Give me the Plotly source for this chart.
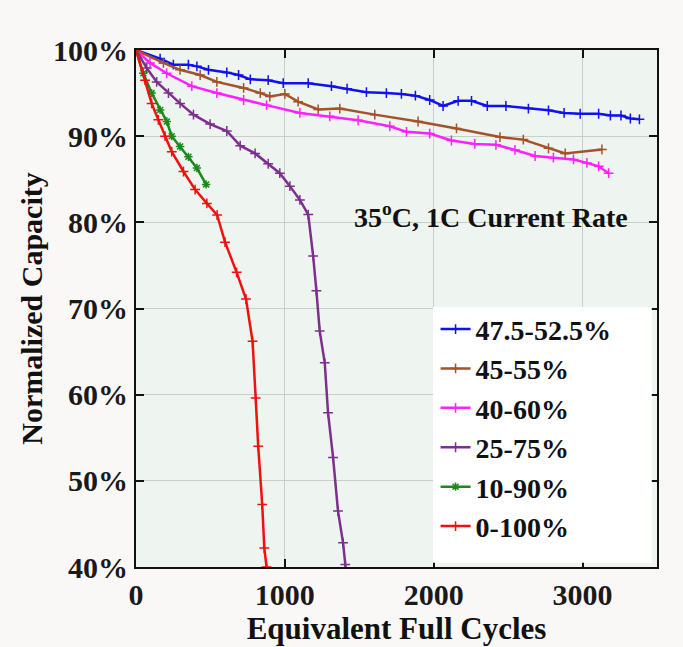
import plotly.graph_objects as go

# ---- data ----
blue_x = [0, 162, 251, 352, 409, 487, 610, 689, 768, 888, 989, 1157, 1313, 1418, 1548, 1682, 1783, 1877,
          1973, 2063, 2164, 2254, 2360, 2485, 2636, 2771, 2876, 2984, 3108, 3187, 3258, 3321, 3382]
blue_y = [100, 99.0, 98.3, 98.3, 98.1, 97.7, 97.4, 97.1, 96.6, 96.5, 96.15, 96.15, 95.8, 95.5, 95.1, 95.0, 94.9, 94.7,
          94.2, 93.5, 94.1, 94.1, 93.5, 93.5, 93.2, 93.0, 92.7, 92.6, 92.6, 92.4, 92.4, 92.05, 91.95]

brown_x = [0, 184, 296, 431, 543, 723, 835, 899, 1000, 1089, 1224, 1369, 1604, 1895, 2153, 2445, 2602, 2771, 2883, 3130]
brown_y = [100, 98.5, 97.7, 97.1, 96.3, 95.6, 95.0, 94.6, 94.9, 94.0, 93.1, 93.2, 92.5, 91.7, 90.9, 89.9, 89.6, 88.6, 88.0, 88.45]

magenta_x = [0, 94, 206, 375, 543, 723, 877, 1101, 1302, 1492, 1705, 1817, 1973, 2119, 2276, 2418, 2546, 2681,
             2804, 2939, 3029, 3108, 3175]
magenta_y = [100, 98.5, 97.3, 95.8, 95.0, 94.2, 93.6, 92.7, 92.3, 91.85, 91.15, 90.5, 90.3, 89.5, 89.1, 89.0, 88.4, 87.7,
             87.5, 87.3, 86.9, 86.5, 85.7]

purple_x = [0, 72, 139, 218, 296, 386, 498, 610, 700, 800, 888, 966, 1034, 1101, 1157, 1190, 1212, 1234, 1268,
            1290, 1324, 1357, 1391, 1406, 1420]
purple_y = [100, 97.9, 96.3, 95.0, 93.8, 92.5, 91.4, 90.6, 88.9, 88.0, 86.8, 85.7, 84.2, 82.6, 80.9, 76.1, 72.05, 67.4, 63.7,
            57.9, 52.7, 46.5, 42.8, 40.3, 38.0]

green_x = [0, 49, 105, 162, 207, 240, 296, 352, 409, 471]
green_y = [100, 97.3, 95.0, 93.05, 91.7, 90.0, 88.8, 87.6, 86.3, 84.4]

red_x = [0, 61, 105, 150, 195, 240, 319, 397, 476, 545, 598, 676, 739, 783, 804, 821, 848, 862, 877]
red_y = [100, 96.5, 93.8, 91.9, 90.0, 88.2, 85.9, 83.8, 82.2, 80.85, 77.7, 74.2, 71.1, 66.2, 59.6, 54.0, 47.25, 42.2, 40.0]

series = [
    ("47.5-52.5%", blue_x, blue_y, "#1010f0", "cross-thin"),
    ("45-55%", brown_x, brown_y, "#a4522a", "cross-thin"),
    ("40-60%", magenta_x, magenta_y, "#ff20ff", "cross-thin"),
    ("25-75%", purple_x, purple_y, "#7e2f8e", "cross-thin"),
    ("10-90%", green_x, green_y, "#1a8a1a", "asterisk"),
    ("0-100%", red_x, red_y, "#f01010", "cross-thin"),
]

y_ticks = [40, 50, 60, 70, 80, 90, 100]
y_labels = ["40%", "50%", "60%", "70%", "80%", "90%", "100%"]
x_ticks = [0, 1000, 2000, 3000]
x_labels = ["0", "1000", "2000", "3000"]

font_family = "Liberation Serif, Times New Roman, serif"

fig = go.Figure()
for name, xs, ys, color, sym in series:
    fig.add_trace(go.Scatter(
        x=xs, y=ys, mode="lines+markers", name="<b>%s</b>" % name,
        line=dict(color=color, width=2.5),
        marker=dict(symbol=sym, size=7, color=color, line=dict(color=color, width=1.5)),
    ))

# white legend panel (extends to the right frame as in the reference)
fig.add_shape(type="rect", xref="paper", yref="paper", x0=0.570, x1=0.990, y0=0.008, y1=0.503,
              fillcolor="#ffffff", line=dict(width=0), layer="above")

fig.add_annotation(
    x=0.415, y=0.68, xref="paper", yref="paper", xanchor="left", yanchor="middle",
    text="<b>35<sup>o</sup>C, 1C Current Rate</b>", showarrow=False,
    font=dict(family=font_family, size=28, color="#111"),
)

axis_common = dict(
    showline=True, linecolor="#111", linewidth=2, mirror="ticks",
    ticks="inside", ticklen=8, tickwidth=1.5, tickcolor="#111",
    showgrid=True, gridcolor="#c9cec9", gridwidth=1, zeroline=False,
    tickfont=dict(family=font_family, size=30, color="#1a1a1a"),
)

fig.update_layout(
    width=683, height=647,
    margin=dict(l=136, r=26, t=50, b=80),
    paper_bgcolor="#faf8f7",
    plot_bgcolor="#eef4ef",
    font=dict(family=font_family, color="#111"),
    xaxis=dict(range=[0, 3500], tickvals=x_ticks, ticktext=["<b>%s</b>" % t for t in x_labels],
               title=dict(text="<b>Equivalent Full Cycles</b>", font=dict(family=font_family, size=31), standoff=0),
               **axis_common),
    yaxis=dict(range=[40, 100], tickvals=y_ticks, ticktext=["<b>%s</b>" % t for t in y_labels],
               title=dict(text="<b>Normalized Capacity</b>", font=dict(family=font_family, size=30), standoff=2),
               **axis_common),
    legend=dict(x=0.575, y=0.508, xanchor="left", yanchor="top",
                bgcolor="rgba(255,255,255,0)", borderwidth=0,
                font=dict(family=font_family, size=28, color="#111"),
                itemwidth=30, tracegroupgap=0),
    showlegend=True,
)

fig.write_html("out.html")
